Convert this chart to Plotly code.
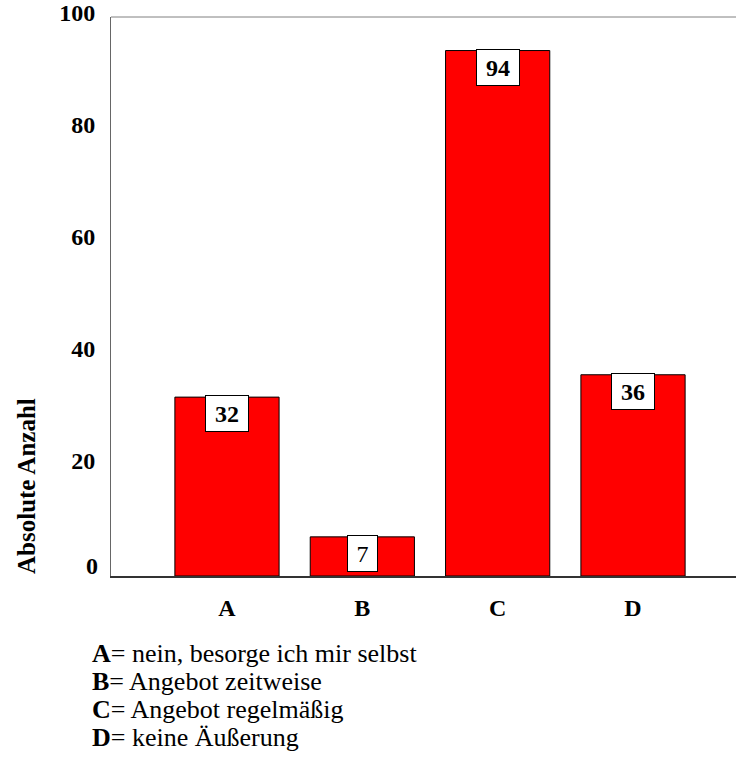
import plotly.graph_objects as go

# ---- data ----
categories = ["A", "B", "C", "D"]
values = [32, 7, 94, 36]
descriptions = [
    "nein, besorge ich mir selbst",
    "Angebot zeitweise",
    "Angebot regelmäßig",
    "keine Äußerung",
]
y_ticks = [20, 40, 60, 80, 100]
y_title = "Absolute Anzahl"

# ---- style ----
FONT = "Liberation Serif, Times New Roman, serif"
bold_value = {"A": True, "B": False, "C": True, "D": True}

W, H = 736, 757
L, R, T, B = 111, 0, 17, 181
plot_h = H - T - B


def py(pix):
    """pixel y (from top of page) -> paper y"""
    return (H - B - pix) / plot_h


def px(pix):
    plot_w = W - L - R
    return (pix - L) / plot_w


fig = go.Figure()
fig.add_trace(go.Bar(
    x=categories, y=values,
    marker=dict(color="#FF0000", line=dict(color="#000000", width=1)),
    width=0.77,
    hoverinfo="skip",
))

annotations = []
for c, v in zip(categories, values):
    txt = str(v)
    t = f"<b>{txt}</b>" if bold_value[c] else txt
    annotations.append(dict(
        x=c, y=v, xref="x", yref="y", text=t, showarrow=False,
        yanchor="top", yshift=2,
        font=dict(family=FONT, size=24, color="black"),
        bgcolor="white", bordercolor="black", borderwidth=1, borderpad=0,
        width=13 * len(txt) + 16, height=35,
    ))

# zero tick label (sits a little above the axis in the original)
annotations.append(dict(
    x=0, y=0, xref="paper", yref="y", text="<b>0</b>", showarrow=False,
    xanchor="right", yanchor="middle", xshift=-11, yshift=10,
    font=dict(family=FONT, size=24, color="black"),
))

# y-axis title
annotations.append(dict(
    x=px(26), y=py(486), xref="paper", yref="paper", text=f"<b>{y_title}</b>",
    showarrow=False, textangle=-90, xanchor="center", yanchor="middle",
    font=dict(family=FONT, size=25, color="black"),
))

# legend / description lines
for i, (c, d) in enumerate(zip(categories, descriptions)):
    annotations.append(dict(
        x=px(90), y=py(653 + 28 * i), xref="paper", yref="paper",
        text=f"<b>{c}</b>= {d}", showarrow=False,
        xanchor="left", yanchor="middle",
        font=dict(family=FONT, size=26, color="black"),
    ))

fig.update_layout(
    width=W, height=H,
    margin=dict(l=L, r=R, t=T, b=B, pad=0),
    paper_bgcolor="white", plot_bgcolor="white",
    showlegend=False,
    annotations=annotations,
    shapes=[dict(type="line", xref="paper", yref="paper", x0=0, x1=1, y0=1, y1=1,
                 line=dict(color="#808080", width=1))],
    xaxis=dict(
        range=[-0.857, 3.761], showgrid=False, zeroline=False,
        showline=True, linecolor="#333333", linewidth=2,
        ticks="", ticklabelstandoff=9,
        tickfont=dict(family=FONT, size=24, color="black", weight="bold"),
    ),
    yaxis=dict(
        range=[0, 100], showgrid=False, zeroline=False,
        showline=True, linecolor="#666666", linewidth=1,
        tickmode="array", tickvals=y_ticks, ticktext=[str(v) for v in y_ticks],
        ticks="", ticklabelstandoff=10, ticklabelshift=-4,
        tickfont=dict(family=FONT, size=24, color="black", weight="bold"),
    ),
)

fig.write_html("out.html")
